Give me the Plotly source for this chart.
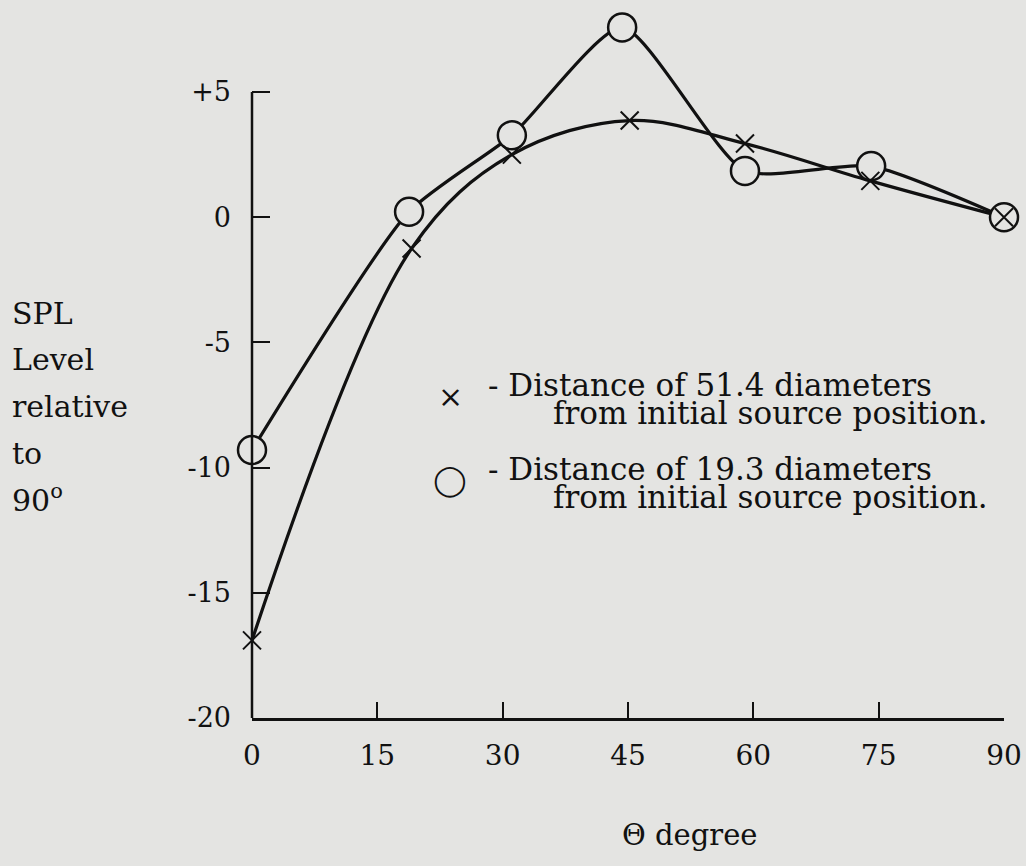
import plotly.graph_objects as go

# Data
theta_x = [0, 19.1, 31.1, 45.2, 59.0, 74.0, 90]
spl_x = [-16.9, -1.25, 2.5, 3.86, 2.94, 1.45, 0.0]      # x : 51.4 diameters
theta_o = [0, 18.8, 31.1, 44.3, 59.0, 74.1, 90]
spl_o = [-9.3, 0.22, 3.27, 7.58, 1.85, 2.04, 0.0]        # o : 19.3 diameters

y_tickvals = [5, 0, -5, -10, -15, -20]
y_ticktext = ["+5", "0", "-5", "-10", "-15", "-20"]
x_tickvals = [0, 15, 30, 45, 60, 75, 90]

BG = "#e4e4e2"
FONT = "DejaVu Serif"
INK = "#111111"

W, H = 1026, 866
L, R, T, B = 252, 22, 0, 148
pw, ph = W - L - R, H - T - B
Y0_PX = 718.0          # pixel row of -20
UNIT = (718.0 - 92.0) / 25.0   # pixels per dB
y_top = -20 + (Y0_PX - T) / UNIT

fig = go.Figure()
fig.add_trace(go.Scatter(x=theta_o, y=spl_o, mode="lines",
                         line=dict(color=INK, width=3.2, shape="spline", smoothing=0.6),
                         showlegend=False, hoverinfo="skip"))
fig.add_trace(go.Scatter(x=theta_x, y=spl_x, mode="lines",
                         line=dict(color=INK, width=3.2, shape="spline", smoothing=1.0),
                         showlegend=False, hoverinfo="skip"))
fig.add_trace(go.Scatter(x=theta_o, y=spl_o, mode="markers",
                         marker=dict(symbol="circle", size=28, color=BG,
                                     line=dict(color=INK, width=2.5)),
                         cliponaxis=False, showlegend=False))
fig.add_trace(go.Scatter(x=theta_x, y=spl_x, mode="markers",
                         marker=dict(symbol="x-thin", size=18, color=INK,
                                     line=dict(color=INK, width=2)),
                         cliponaxis=False, showlegend=False))


def px(xp):
    return (xp - L) / pw


def py(yp):
    return 1 - (yp - T) / ph


ann = []
left_lines = [("SPL", 313), ("Level", 359), ("relative", 406), ("to", 453), ("90<sup>o</sup>", 498)]
for txt, yc in left_lines:
    ann.append(dict(text=txt, x=px(10), y=py(yc), xref="paper", yref="paper",
                    xanchor="left", yanchor="middle", showarrow=False,
                    font=dict(family=FONT, size=30, color=INK)))

legend_lines = [("- Distance of 51.4 diameters", 486, 385),
                ("from initial source position.", 551, 413),
                ("- Distance of 19.3 diameters", 486, 469),
                ("from initial source position.", 551, 497)]
for txt, xl, yc in legend_lines:
    ann.append(dict(text=txt, x=px(xl), y=py(yc), xref="paper", yref="paper",
                    xanchor="left", yanchor="middle", showarrow=False,
                    font=dict(family=FONT, size=31, color=INK)))
ann.append(dict(text="×", x=px(450), y=py(396), xref="paper", yref="paper",
                xanchor="center", yanchor="middle", showarrow=False,
                font=dict(family=FONT, size=30, color=INK)))
ann.append(dict(text="◯", x=px(450), y=py(480), xref="paper", yref="paper",
                xanchor="center", yanchor="middle", showarrow=False,
                font=dict(family="DejaVu Sans", size=30, color=INK)))
ann.append(dict(text="Θ degree", x=px(689), y=py(835), xref="paper", yref="paper",
                xanchor="center", yanchor="middle", showarrow=False,
                font=dict(family=FONT, size=29, color=INK)))

fig.update_layout(
    width=W, height=H,
    margin=dict(l=L, r=R, t=T, b=B, pad=0),
    paper_bgcolor=BG, plot_bgcolor=BG,
    showlegend=False,
    annotations=ann,
    shapes=[dict(type="line", xref="paper", yref="y", x0=0, x1=0, y0=-20, y1=5,
                 layer="above", line=dict(color=INK, width=2.5))],
    xaxis=dict(range=[0, 90], tickvals=x_tickvals, ticks="inside", ticklen=16,
               tickwidth=2, tickcolor=INK, showline=True, linecolor=INK, linewidth=2.5,
               showgrid=False, zeroline=False, ticklabelstandoff=11,
               tickfont=dict(family=FONT, size=28, color=INK)),
    yaxis=dict(range=[-20, y_top], tickvals=y_tickvals, ticktext=y_ticktext, ticks="inside",
               ticklen=18, tickwidth=2, tickcolor=INK, showline=False,
               showgrid=False, zeroline=False, ticklabelstandoff=20,
               tickfont=dict(family=FONT, size=27, color=INK)),
)

fig.write_html("out.html")
